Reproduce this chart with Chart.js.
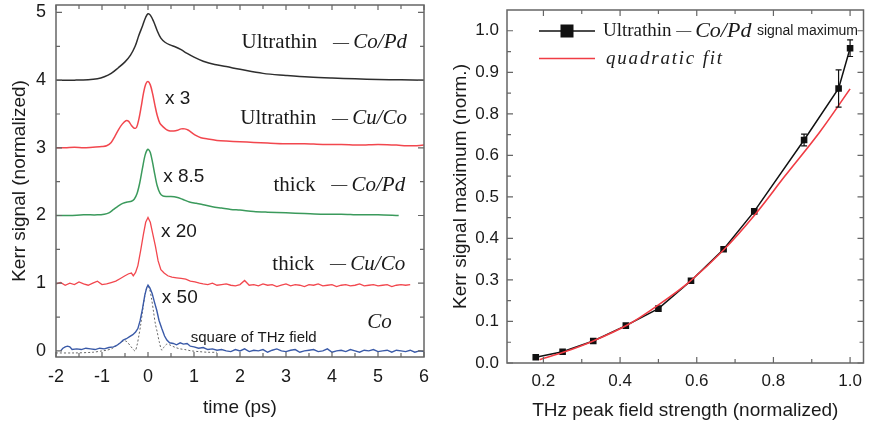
<!DOCTYPE html>
<html>
<head>
<meta charset="utf-8">
<title>Kerr signal vs time and THz field</title>
<script src="https://cdn.jsdelivr.net/npm/chart.js"></script>
<style>
  html, body { margin: 0; padding: 0; background: #fff; }
  #left { position: absolute; left: 0; top: 0; width: 440px; height: 427px; }
  #right { position: absolute; left: 440px; top: 0; width: 429px; height: 427px; }
</style>
</head>
<body>
<div id="left"><canvas id="timeChart"></canvas></div>
<div id="right"><canvas id="fieldChart"></canvas></div>
<script>
// ---- left panel: Kerr traces (offset, normalized) ----
var tUltraCoPd = [-2, -1.6, -1.3, -1.1, -0.95, -0.8, -0.65, -0.5, -0.38, -0.28, -0.2, -0.12, -0.05, 0, 0.05, 0.12, 0.2, 0.28, 0.37, 0.48, 0.6, 0.72, 0.84, 1.0, 1.2, 1.45, 1.7, 2.0, 2.5, 3.0, 3.5, 4.0, 4.5, 5.0, 5.5, 6.0];
var kUltraCoPd = [4.0, 4.0, 4.005, 4.02, 4.05, 4.1, 4.18, 4.27, 4.37, 4.5, 4.66, 4.8, 4.93, 4.98, 4.96, 4.87, 4.73, 4.62, 4.56, 4.52, 4.49, 4.45, 4.4, 4.34, 4.28, 4.23, 4.2, 4.16, 4.1, 4.07, 4.045, 4.03, 4.02, 4.01, 4.005, 4.0];

var tUltraCuCo = [-2, -1.8, -1.6, -1.4, -1.2, -1.0, -0.9, -0.8, -0.72, -0.64, -0.56, -0.48, -0.42, -0.36, -0.3, -0.25, -0.2, -0.15, -0.1, -0.05, 0, 0.05, 0.1, 0.15, 0.2, 0.26, 0.33, 0.4, 0.48, 0.56, 0.64, 0.72, 0.8, 0.88, 0.96, 1.05, 1.15, 1.3, 1.5, 1.7, 2.0, 2.3, 2.6, 3.0, 3.4, 3.8, 4.2, 4.6, 5.0, 5.4, 5.7, 6.0];
var kUltraCuCo = [3.0, 3.0, 3.01, 3.0, 3.01, 3.02, 3.03, 3.08, 3.17, 3.27, 3.35, 3.4, 3.39, 3.33, 3.29, 3.3, 3.42, 3.6, 3.8, 3.94, 3.98, 3.93, 3.8, 3.63, 3.48, 3.36, 3.31, 3.27, 3.25, 3.25, 3.26, 3.28, 3.28, 3.26, 3.22, 3.18, 3.15, 3.13, 3.11, 3.1, 3.09, 3.08, 3.07, 3.06, 3.06, 3.05, 3.05, 3.04, 3.05, 3.04, 3.03, 3.04];

var tThickCoPd = [-2, -1.7, -1.4, -1.1, -0.95, -0.85, -0.75, -0.65, -0.55, -0.45, -0.36, -0.3, -0.24, -0.18, -0.12, -0.06, 0, 0.05, 0.1, 0.15, 0.2, 0.26, 0.32, 0.4, 0.5, 0.62, 0.75, 0.9, 1.05, 1.2, 1.4, 1.6, 1.8, 2.0, 2.3, 2.6, 3.0, 3.4, 3.8, 4.2, 4.6, 5.0, 5.45];
var kThickCoPd = [2.0, 2.0, 2.01, 2.01, 2.02, 2.04, 2.09, 2.14, 2.18, 2.2, 2.21, 2.24, 2.32, 2.48, 2.7, 2.9, 2.98, 2.93, 2.78, 2.6, 2.44, 2.33, 2.29, 2.28, 2.28, 2.27, 2.24, 2.2, 2.18, 2.16, 2.13, 2.11, 2.09, 2.08, 2.06, 2.05, 2.04, 2.03, 2.02, 2.02, 2.01, 2.01, 2.0];

var tThickCuCo = [-2, -1.9, -1.8, -1.7, -1.6, -1.5, -1.4, -1.3, -1.2, -1.1, -1.0, -0.9, -0.8, -0.7, -0.6, -0.5, -0.42, -0.36, -0.32, -0.27, -0.22, -0.16, -0.1, -0.05, 0, 0.05, 0.1, 0.16, 0.22, 0.28, 0.35, 0.43, 0.52, 0.62, 0.72, 0.82, 0.92, 1.02, 1.12,
  1.2, 1.3, 1.4, 1.5, 1.6, 1.7, 1.8, 1.9, 2.0, 2.1, 2.2, 2.3, 2.4, 2.5, 2.6, 2.7, 2.8, 2.9, 3.0, 3.1,
  3.2, 3.3, 3.4, 3.5, 3.6, 3.7, 3.8, 3.9, 4.0, 4.1, 4.2, 4.3, 4.4, 4.5, 4.6, 4.7, 4.8, 4.9, 5.0, 5.1,
  5.2, 5.3, 5.4, 5.5, 5.6, 5.7];
var kThickCuCo = [0.99, 1.01, 0.97, 1.0, 0.98, 1.02, 0.99, 0.97, 1.0, 1.03, 0.98, 0.99, 1.01, 1.03, 1.07, 1.11, 1.14, 1.15, 1.11, 1.16, 1.26, 1.48, 1.72, 1.9, 1.97, 1.9, 1.74, 1.55, 1.33, 1.2, 1.15, 1.11, 1.09, 1.08, 1.07, 1.06, 1.03, 1.02, 1.0,
  0.99, 0.98, 1.0, 0.97, 0.98, 0.99, 0.97, 0.96, 0.98, 1.04, 0.97, 0.98, 0.96, 0.99, 0.97, 0.98, 0.95, 0.97, 0.99, 0.96,
  0.98, 0.97, 0.95, 0.98, 0.97, 0.99, 0.96, 0.97, 0.98, 0.95, 0.97, 0.98, 0.96, 0.97, 0.99, 0.96, 0.97, 0.98, 0.96, 0.97,
  0.98, 0.95, 0.97, 0.98, 0.97, 0.98];

var tCo = [-1.9, -1.85, -1.8, -1.75, -1.7, -1.65, -1.55, -1.45, -1.35, -1.25, -1.15, -1.05, -0.95, -0.85, -0.75, -0.68, -0.6, -0.54, -0.47, -0.4, -0.33, -0.27, -0.22, -0.17, -0.12, -0.07, -0.03, 0, 0.04, 0.09, 0.14, 0.19, 0.24, 0.3, 0.36, 0.41, 0.47, 0.55, 0.62, 0.7, 0.77, 0.85, 0.92, 1.0, 1.1, 1.2, 1.3, 1.4, 1.5,
  1.6, 1.7, 1.8, 1.9, 2.0, 2.1, 2.2, 2.3, 2.4, 2.5, 2.6, 2.7, 2.8, 2.9, 3.0, 3.1, 3.2, 3.3, 3.4, 3.5,
  3.6, 3.7, 3.8, 3.9, 4.0, 4.1, 4.2, 4.3, 4.4, 4.5, 4.6, 4.7, 4.8, 4.9, 5.0, 5.1, 5.2, 5.3, 5.4, 5.5,
  5.6, 5.7, 5.8, 5.9, 6.0];
var kCo = [0.0, 0.04, 0.06, 0.07, 0.06, 0.02, 0.03, 0.02, 0.04, 0.03, 0.02, 0.04, 0.03, 0.05, 0.06, 0.08, 0.12, 0.16, 0.18, 0.21, 0.24, 0.28, 0.33, 0.45, 0.62, 0.82, 0.93, 0.97, 0.93, 0.85, 0.72, 0.6, 0.45, 0.33, 0.22, 0.16, 0.12, 0.11, 0.09, 0.12, 0.1, 0.11, 0.07, 0.06, 0.04, 0.05, 0.02, 0.03, 0.01,
  0.02, 0.0, -0.01, 0.02, 0.0, 0.03, -0.01, 0.01, 0.0, 0.02, -0.02, 0.01, 0.03, 0.0, -0.01, 0.01, 0.02, -0.02, 0.0, 0.01,
  0.02, -0.01, 0.0, 0.03, -0.02, 0.0, 0.01, -0.01, 0.02, 0.0, -0.02, 0.01, 0.0, 0.02, -0.01, 0.0, 0.01, -0.02, 0.01, 0.0,
  -0.01, 0.01, -0.02, 0.0, -0.01];

var tThzSquare = [-2, -1.6, -1.2, -1.0, -0.9, -0.8, -0.7, -0.62, -0.55, -0.5, -0.45, -0.39, -0.33, -0.28, -0.24, -0.2, -0.16, -0.12, -0.08, -0.04, 0, 0.04, 0.08, 0.12, 0.16, 0.2, 0.25, 0.3, 0.35, 0.41, 0.47, 0.53, 0.6, 0.7, 0.8, 0.95, 1.1, 1.3, 1.5];
var kThzSquare = [-0.03, -0.03, -0.02, 0.0, 0.01, 0.03, 0.07, 0.11, 0.14, 0.15, 0.13, 0.08, 0.03, 0.0, 0.08, 0.22, 0.38, 0.58, 0.77, 0.9, 0.95, 0.9, 0.76, 0.58, 0.4, 0.28, 0.12, 0.01, 0.06, 0.1, 0.09, 0.07, 0.05, 0.03, 0.02, 0.0, -0.01, -0.02, -0.02];

var timeTicks = [-2, -1, 0, 1, 2, 3, 4, 5, 6];
var kerrTicks = [0, 1, 2, 3, 4, 5];

// ---- right panel: signal maximum vs THz field ----
var fieldStrength = [0.18, 0.25, 0.33, 0.415, 0.5, 0.585, 0.67, 0.75, 0.88, 0.97, 1.0];
// values are positions on the (unevenly labelled) axis, one unit per label
var signalMax = [0.14, 0.27, 0.53, 0.9, 1.31, 1.98, 2.74, 3.65, 5.37, 6.61, 7.58];
var signalErr = [0, 0, 0, 0, 0, 0, 0, 0, 0.14, 0.45, 0.2];
var fitField = [0.19, 0.25, 0.33, 0.42, 0.5, 0.58, 0.67, 0.75, 0.83, 0.92, 1.0];
var fitSignal = [0.08, 0.25, 0.53, 0.92, 1.4, 1.95, 2.72, 3.55, 4.5, 5.55, 6.6];
var fieldTicks = [0.2, 0.4, 0.6, 0.8, 1.0];
var signalTickLabels = ['0.0', '0.1', '0.3', '0.4', '0.5', '0.6', '0.8', '0.9', '1.0'];

var SANS = '"Liberation Sans", Arial, sans-serif';
var SERIF = '"Liberation Serif", "Times New Roman", serif';

function toPoints(xs, ys) {
  return xs.map(function(x, i) { return { x: x, y: ys[i] }; });
}

// frame round the plot area with inward ticks on all four sides
var frameTicks = {
  id: 'frameTicks',
  afterDatasetsDraw: function(chart, args, o) {
    var ctx = chart.ctx, a = chart.chartArea;
    var xs = chart.scales.x, ys = chart.scales.y;
    ctx.save();
    ctx.strokeStyle = o.color;
    ctx.lineWidth = o.width;
    ctx.strokeRect(a.left, a.top, a.right - a.left, a.bottom - a.top);
    ctx.lineWidth = 1.2;
    ctx.beginPath();
    o.xMarks.forEach(function(m) {
      var px = xs.getPixelForValue(m[0]);
      ctx.moveTo(px, a.bottom); ctx.lineTo(px, a.bottom - m[1]);
      ctx.moveTo(px, a.top); ctx.lineTo(px, a.top + m[1]);
    });
    o.yMarks.forEach(function(m) {
      var py = ys.getPixelForValue(m[0]);
      ctx.moveTo(a.left, py); ctx.lineTo(a.left + m[1], py);
      ctx.moveTo(a.right, py); ctx.lineTo(a.right - m[1], py);
    });
    ctx.stroke();
    ctx.restore();
  }
};

// draw a row of text pieces with their own fonts, starting at x
function drawParts(ctx, parts, x, y) {
  parts.forEach(function(p) {
    ctx.font = p[1];
    ctx.fillText(p[0], x, y);
    x += ctx.measureText(p[0]).width;
  });
}

// text labels placed in data coordinates, parts may mix fonts
var textLabels = {
  id: 'textLabels',
  afterDatasetsDraw: function(chart, args, o) {
    var ctx = chart.ctx, xs = chart.scales.x, ys = chart.scales.y;
    ctx.save();
    ctx.textBaseline = 'middle';
    ctx.fillStyle = '#1a1a1a';
    (o.items || []).forEach(function(item) {
      var x = xs.getPixelForValue(item.x), y = ys.getPixelForValue(item.y);
      var total = 0;
      item.parts.forEach(function(p) { ctx.font = p[1]; total += ctx.measureText(p[0]).width; });
      drawParts(ctx, item.parts, item.align === 'right' ? x - total : x, y);
    });
    ctx.restore();
  }
};

// vertical error bars for the signal maximum
var errorBars = {
  id: 'errorBars',
  afterDatasetsDraw: function(chart) {
    var ctx = chart.ctx, xs = chart.scales.x, ys = chart.scales.y;
    ctx.save();
    ctx.strokeStyle = '#111';
    ctx.lineWidth = 1.2;
    ctx.beginPath();
    fieldStrength.forEach(function(f, i) {
      if (!signalErr[i]) return;
      var px = xs.getPixelForValue(f);
      var y1 = ys.getPixelForValue(signalMax[i] + signalErr[i]);
      var y2 = ys.getPixelForValue(signalMax[i] - signalErr[i]);
      ctx.moveTo(px, y1); ctx.lineTo(px, y2);
      ctx.moveTo(px - 3, y1); ctx.lineTo(px + 3, y1);
      ctx.moveTo(px - 3, y2); ctx.lineTo(px + 3, y2);
    });
    ctx.stroke();
    ctx.restore();
  }
};

// legend drawn in the upper left of the right panel
var fieldLegend = {
  id: 'fieldLegend',
  afterDatasetsDraw: function(chart) {
    var ctx = chart.ctx, a = chart.chartArea;
    var x0 = a.left + 32, x1 = a.left + 88, y1 = a.top + 21, y2 = a.top + 48.5;
    ctx.save();
    ctx.lineWidth = 1.6;
    ctx.strokeStyle = '#111';
    ctx.beginPath(); ctx.moveTo(x0, y1); ctx.lineTo(x1, y1); ctx.stroke();
    ctx.fillStyle = '#111';
    ctx.fillRect((x0 + x1) / 2 - 6.5, y1 - 6.5, 13, 13);
    ctx.strokeStyle = '#f03c44';
    ctx.beginPath(); ctx.moveTo(x0, y2); ctx.lineTo(x1, y2); ctx.stroke();
    ctx.textBaseline = 'middle';
    ctx.fillStyle = '#1a1a1a';
    drawParts(ctx, [['Ultrathin ', '19px ' + SERIF], ['\u2014', '15px ' + SERIF], ['\u2009', '19px ' + SERIF], ['Co/Pd', 'italic 22px ' + SERIF], [' ', '22px ' + SERIF], ['signal maximum', '14px ' + SANS]], x1 + 8, y1);
    ctx.font = 'italic 19px ' + SERIF;
    ctx.letterSpacing = '1.8px';
    ctx.fillText('quadratic fit', x1 + 11, y2);
    ctx.restore();
  }
};

function setTicks(values) {
  return function(scale) { scale.ticks = values.map(function(v) { return { value: v }; }); };
}
// fixed axis sizes so the plot areas sit where they do in the figure
function fixX(h) {
  return function(s) { s.height = h; s.paddingLeft = 0; s.paddingRight = 0; };
}
function fixY(w) {
  return function(s) { s.width = w; s.paddingTop = 0; s.paddingBottom = 0; };
}

var minorTime = [];
[-2, -1.5, -1, -0.5, 0, 0.5, 1, 1.5, 2, 2.5, 3, 3.5, 4, 4.5, 5, 5.5, 6].forEach(function(v) { minorTime.push([v, Number.isInteger(v) ? 5 : 4]); });
var minorKerr = [];
[0, 0.5, 1, 1.5, 2, 2.5, 3, 3.5, 4, 4.5, 5].forEach(function(v) { minorKerr.push([v, Number.isInteger(v) ? 6 : 4]); });

var serifUp = '21px ' + SERIF, serifIt = 'italic 21px ' + SERIF, sansMid = '19px ' + SANS;
var GAP = ['   ', serifUp], DASH = ['\u2014', '16px ' + SERIF], THIN = ['\u2009', serifUp];

new Chart(document.getElementById('timeChart'), {
  type: 'line',
  data: {
    datasets: [
      { data: toPoints(tUltraCoPd, kUltraCoPd), borderColor: '#2e2e2e', borderWidth: 1.5, pointRadius: 0, tension: 0.35 },
      { data: toPoints(tUltraCuCo, kUltraCuCo), borderColor: '#f2474e', borderWidth: 1.5, pointRadius: 0, tension: 0.3 },
      { data: toPoints(tThickCoPd, kThickCoPd), borderColor: '#3b9a5c', borderWidth: 1.5, pointRadius: 0, tension: 0.3 },
      { data: toPoints(tThickCuCo, kThickCuCo), borderColor: '#f2474e', borderWidth: 1.3, pointRadius: 0, tension: 0 },
      { data: toPoints(tCo, kCo), borderColor: '#3a5aa8', borderWidth: 1.4, pointRadius: 0, tension: 0 },
      { data: toPoints(tThzSquare, kThzSquare), borderColor: '#666', borderWidth: 1, borderDash: [2, 2], pointRadius: 0, tension: 0.3 }
    ]
  },
  options: {
    responsive: true,
    maintainAspectRatio: false,
    animation: false,
    layout: { padding: { left: 0, right: 16, top: 5, bottom: 0 } },
    plugins: {
      legend: { display: false },
      tooltip: { enabled: false },
      frameTicks: { color: '#666', width: 1.5, xMarks: minorTime, yMarks: minorKerr },
      textLabels: {
        items: [
          { x: 5.63, y: 4.55, align: 'right', parts: [['Ultrathin', serifUp], GAP, DASH, THIN, ['Co/Pd', serifIt]] },
          { x: 5.63, y: 3.43, align: 'right', parts: [['Ultrathin', serifUp], GAP, DASH, THIN, ['Cu/Co', serifIt]] },
          { x: 5.59, y: 2.45, align: 'right', parts: [['thick', serifUp], GAP, DASH, THIN, ['Co/Pd', serifIt]] },
          { x: 5.59, y: 1.28, align: 'right', parts: [['thick', serifUp], GAP, DASH, THIN, ['Cu/Co', serifIt]] },
          { x: 5.3, y: 0.42, align: 'right', parts: [['Co', serifIt]] },
          { x: 0.37, y: 3.72, parts: [['x 3', sansMid]] },
          { x: 0.33, y: 2.57, parts: [['x 8.5', sansMid]] },
          { x: 0.28, y: 1.76, parts: [['x 20', sansMid]] },
          { x: 0.3, y: 0.79, parts: [['x 50', sansMid]] },
          { x: 0.93, y: 0.2, parts: [['square of THz field', '15px ' + SANS]] }
        ]
      }
    },
    scales: {
      x: {
        type: 'linear', min: -2, max: 6,
        afterBuildTicks: setTicks(timeTicks),
        afterFit: fixX(70),
        grid: { display: false, drawTicks: false },
        border: { display: false },
        ticks: { padding: 9, color: '#1a1a1a', font: { family: SANS, size: 18 }, callback: function(v) { return String(v); } },
        title: { display: true, text: 'time (ps)', color: '#1a1a1a', font: { family: SANS, size: 19 }, padding: { top: 0, bottom: 8 } }
      },
      y: {
        type: 'linear', min: -0.09, max: 5.11,
        afterBuildTicks: setTicks(kerrTicks),
        afterFit: fixY(56),
        grid: { display: false, drawTicks: false },
        border: { display: false },
        ticks: { padding: 10, color: '#1a1a1a', font: { family: SANS, size: 18 }, callback: function(v) { return String(v); } },
        title: { display: true, text: 'Kerr signal (normalized)', color: '#1a1a1a', font: { family: SANS, size: 19 }, padding: { top: 8, bottom: 0 } }
      }
    }
  },
  plugins: [frameTicks, textLabels]
});

var fieldMarks = [];
[0.2, 0.3, 0.4, 0.5, 0.6, 0.7, 0.8, 0.9, 1.0].forEach(function(v, i) { fieldMarks.push([v, i % 2 === 0 ? 6 : 4]); });
var signalMarks = [];
[0, 0.5, 1, 1.5, 2, 2.5, 3, 3.5, 4, 4.5, 5, 5.5, 6, 6.5, 7, 7.5, 8].forEach(function(v) { signalMarks.push([v, Number.isInteger(v) ? 6 : 4]); });

new Chart(document.getElementById('fieldChart'), {
  type: 'line',
  data: {
    datasets: [
      { data: toPoints(fitField, fitSignal), borderColor: '#f03c44', borderWidth: 1.6, pointRadius: 0, tension: 0.35 },
      { data: toPoints(fieldStrength, signalMax), borderColor: '#111', borderWidth: 1.5, pointStyle: 'rect', pointRadius: 3.6, pointBackgroundColor: '#111', pointBorderColor: '#111', tension: 0 }
    ]
  },
  options: {
    responsive: true,
    maintainAspectRatio: false,
    animation: false,
    layout: { padding: { left: 0, right: 1, top: 10, bottom: 0 } },
    plugins: {
      legend: { display: false },
      tooltip: { enabled: false },
      frameTicks: { color: '#666', width: 1.5, xMarks: fieldMarks, yMarks: signalMarks }
    },
    scales: {
      x: {
        type: 'linear', min: 0.105, max: 1.035,
        afterBuildTicks: setTicks(fieldTicks),
        afterFit: fixX(64),
        grid: { display: false, drawTicks: false },
        border: { display: false },
        ticks: { padding: 8, color: '#1a1a1a', font: { family: SANS, size: 17 }, callback: function(v) { return v.toFixed(1); } },
        title: { display: true, text: 'THz peak field strength (normalized)', color: '#1a1a1a', font: { family: SANS, size: 19 }, padding: { top: 0, bottom: 5 } }
      },
      y: {
        type: 'linear', min: 0, max: 8.5,
        afterBuildTicks: setTicks([0, 1, 2, 3, 4, 5, 6, 7, 8]),
        afterFit: fixY(67),
        grid: { display: false, drawTicks: false },
        border: { display: false },
        ticks: { padding: 8, color: '#1a1a1a', font: { family: SANS, size: 17 }, callback: function(v) { return signalTickLabels[Math.round(v)]; } },
        title: { display: true, text: 'Kerr signal maximum (norm.)', color: '#1a1a1a', font: { family: SANS, size: 19 }, padding: { top: 9, bottom: 0 } }
      }
    }
  },
  plugins: [frameTicks, errorBars, fieldLegend]
});
</script>
</body>
</html>
